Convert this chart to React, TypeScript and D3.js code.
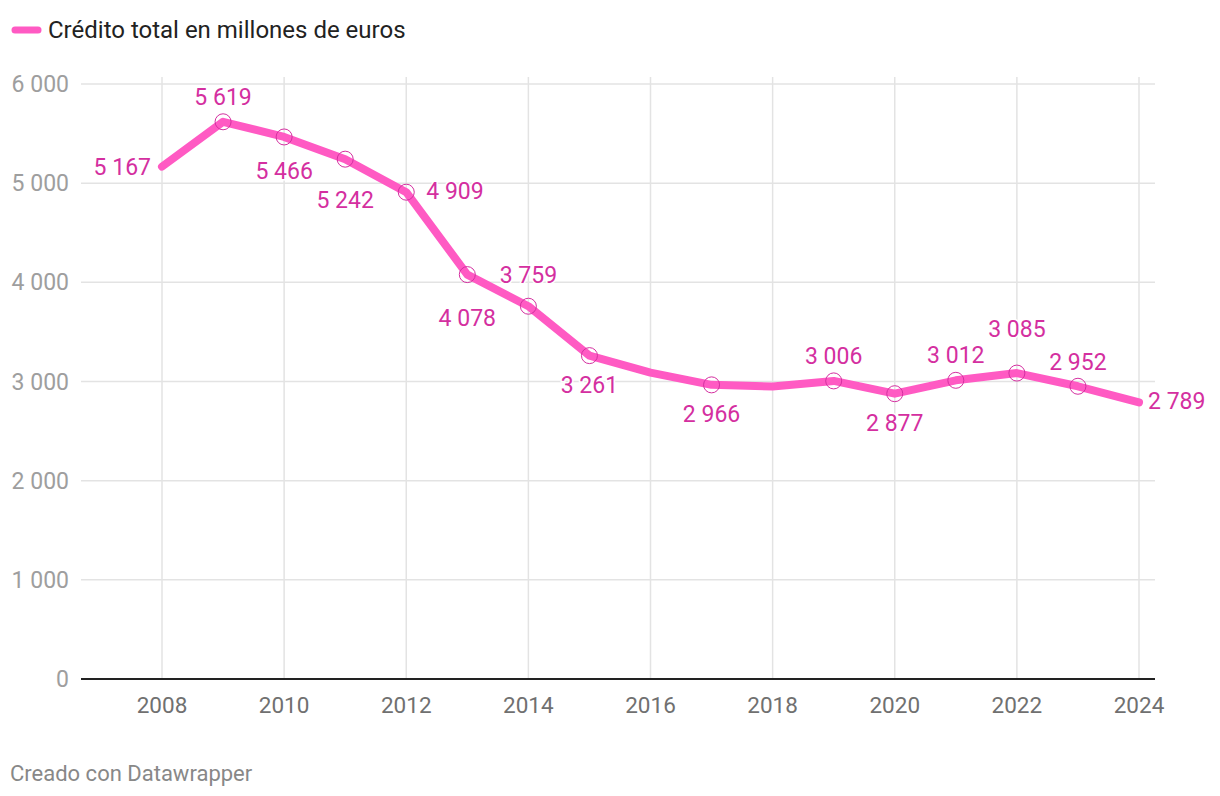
import React from "react";
import * as d3 from "d3";

const years = [2008, 2009, 2010, 2011, 2012, 2013, 2014, 2015, 2016, 2017, 2018, 2019, 2020, 2021, 2022, 2023, 2024];
const credit = [5167, 5619, 5466, 5242, 4909, 4078, 3759, 3261, 3090, 2966, 2950, 3006, 2877, 3012, 3085, 2952, 2789];
const labelShown = [true, true, true, true, true, true, true, true, false, true, false, true, true, true, true, true, true];
const yTicks = [0, 1000, 2000, 3000, 4000, 5000, 6000];
const xTicks = [2008, 2010, 2012, 2014, 2016, 2018, 2020, 2022, 2024];
const seriesName = "Crédito total en millones de euros";
const footer = "Creado con Datawrapper";

// label placement config (style): [dx, dy, anchor]
const labelPlace: [number, number, string][] = [
  [-11, 8, "end"],
  [0, -17, "middle"],
  [0, 42, "middle"],
  [0, 49, "middle"],
  [20, 7, "start"],
  [0, 51, "middle"],
  [0, -23, "middle"],
  [0, 37, "middle"],
  [0, 0, "middle"],
  [0, 37, "middle"],
  [0, 0, "middle"],
  [0, -17, "middle"],
  [0, 37, "middle"],
  [0, -17, "middle"],
  [0, -36, "middle"],
  [0, -16, "middle"],
  [9, 7, "start"],
];

const W = 1220, H = 796;
const font = "Roboto, 'Noto Sans', sans-serif";

export default function App() {
  const x = d3.scaleLinear().domain([2008, 2024]).range([162, 1139]);
  const y = d3.scaleLinear().domain([0, 6000]).range([679, 84]);
  const fmt = (v: number) => d3.format(",")(v).replace(/,/g, " ");
  const line = d3.line<number>().x((_, i) => x(years[i])).y((d) => y(d));
  const pink = "#ff5ac3";
  const labelColor = "#d42fa0";

  return (
    <div style={{ position: "absolute", left: 0, top: 0 }}>
      <svg width={W} height={H} style={{ fontFamily: font, display: "block" }}>
        <rect width={W} height={H} fill="#fff" />
        {/* legend */}
        <line x1={15} x2={38} y1={30} y2={30} stroke={pink} strokeWidth={7} strokeLinecap="round" />
        <text x={48} y={38} fontSize={24} fill="#222">{seriesName}</text>
        {/* grid */}
        {yTicks.filter((t) => t !== 0).map((t) => (
          <line key={"gy" + t} x1={81} x2={1155} y1={y(t)} y2={y(t)} stroke="#e3e3e3" strokeWidth={1.5} />
        ))}
        {xTicks.map((t) => (
          <line key={"gx" + t} x1={x(t)} x2={x(t)} y1={77} y2={679} stroke="#e3e3e3" strokeWidth={1.5} />
        ))}
        {yTicks.map((t) => (
          <text key={"ty" + t} x={69} y={y(t) + 8} textAnchor="end" fontSize={23} fill="#9e9e9e">{fmt(t)}</text>
        ))}
        {xTicks.map((t) => (
          <text key={"tx" + t} x={x(t)} y={713} textAnchor="middle" fontSize={22.5} fill="#707070">{t}</text>
        ))}
        <line x1={81} x2={1155} y1={y(0)} y2={y(0)} stroke="#222" strokeWidth={2} />
        {/* line */}
        <path d={line(credit) || ""} fill="none" stroke={pink} strokeWidth={8} strokeLinejoin="round" strokeLinecap="round" />
        {credit.map((v, i) =>
          labelShown[i] && i !== 0 && i !== credit.length - 1 ? (
            <circle key={"c" + i} cx={x(years[i])} cy={y(v)} r={8} fill="none" stroke={labelColor} strokeWidth={1} />
          ) : null
        )}
        {credit.map((v, i) =>
          labelShown[i] ? (
            <text
              key={"l" + i}
              x={x(years[i]) + labelPlace[i][0]}
              y={y(v) + labelPlace[i][1]}
              textAnchor={labelPlace[i][2] as any}
              fontSize={23}
              fill={labelColor}
              stroke="#fff"
              strokeWidth={3}
              paintOrder="stroke"
            >
              {fmt(v)}
            </text>
          ) : null
        )}
        <text x={10} y={781} fontSize={22} fill="#888">{footer}</text>
      </svg>
    </div>
  );
}
